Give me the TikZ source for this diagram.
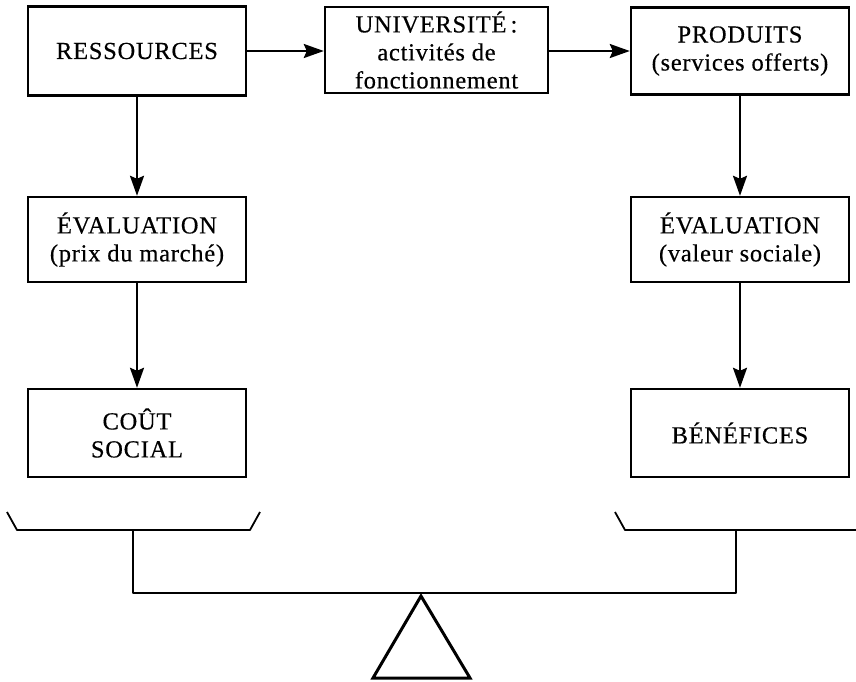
\documentclass[tikz,border=0pt]{standalone}
\usepackage{fontspec}
\setmainfont{Liberation Serif}[LetterSpace=3,FakeBold=0.4]
\usetikzlibrary{arrows.meta}
\begin{document}
\begin{tikzpicture}[x=1pt,y=-1pt,
  box/.style={draw,line width=2.4pt,minimum width=218pt,inner sep=0pt,align=center,
    font=\fontsize{24.5}{28}\selectfont},
  arr/.style={line width=2.4pt,-{Stealth[length=20pt,width=14pt,inset=3pt]}},
  bal/.style={line width=1.8pt,line join=round}]
\useasboundingbox (0,0) rectangle (856,681);
\node[box,minimum height=89pt] (res) at (137,51) {RESSOURCES};
\node[box,minimum height=86pt,minimum width=223pt] (univ) at (436.5,50) {UNIVERSITÉ\,:\\activités de\\fonctionnement};
\node[box,minimum height=87pt] (prod) at (740,51) {PRODUITS\\(services offerts)};
\node[box,minimum height=85pt] (evl) at (137,239.5) {ÉVALUATION\\(prix du marché)};
\node[box,minimum height=85pt] (evr) at (740,239.5) {ÉVALUATION\\(valeur sociale)};
\node[box,minimum height=88pt] (cout) at (137,433) {COÛT\\SOCIAL};
\node[box,minimum height=88pt] (ben) at (740,433) {BÉNÉFICES};
\draw[arr] (res.east) -- (univ.west |- res.east);
\draw[arr] (univ.east |- prod.west) -- (prod.west);
\draw[arr] (res) -- (evl);
\draw[arr] (evl) -- (cout);
\draw[arr] (prod) -- (evr);
\draw[arr] (evr) -- (ben);
% balance
\coordinate (lp1) at (7,512);
\coordinate (lp2) at (17,530);
\coordinate (lp3) at (250,530);
\coordinate (lp4) at (260,512);
\coordinate (rp1) at (615,512);
\coordinate (rp2) at (625,530);
\coordinate (rp3) at (856,530);
\coordinate (lb) at (133,530);
\coordinate (rb) at (736,530);
\coordinate (bl) at (133,593);
\coordinate (br) at (736,593);
\draw[bal] (lp1) -- (lp2) -- (lp3) -- (lp4);
\draw[bal] (rp1) -- (rp2) -- (rp3);
\draw[bal] (lb) -- (bl) -- (br) -- (rb);
\coordinate (ta) at (421,596);
\coordinate (tl) at (373,678);
\coordinate (tr) at (470,678);
\draw[line width=3pt,line join=miter] (ta) -- (tl) -- (tr) -- cycle;
\end{tikzpicture}
\end{document}
